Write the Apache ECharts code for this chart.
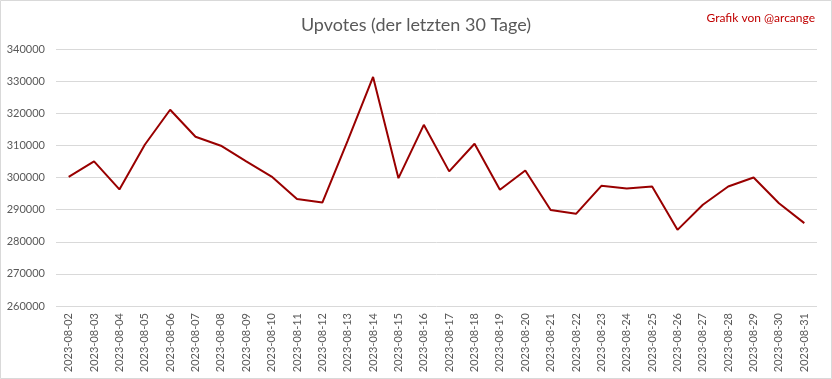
<!DOCTYPE html>
<html><head><meta charset="utf-8">
<script src="https://cdn.jsdelivr.net/npm/echarts@6/dist/echarts.min.js"></script>
<style>html,body{margin:0;padding:0;background:#fff}#c{width:832px;height:379px}</style>
</head><body><div id="c"></div>
<script>
const categories = ["2023-08-02","2023-08-03","2023-08-04","2023-08-05","2023-08-06","2023-08-07","2023-08-08","2023-08-09","2023-08-10","2023-08-11","2023-08-12","2023-08-13","2023-08-14","2023-08-15","2023-08-16","2023-08-17","2023-08-18","2023-08-19","2023-08-20","2023-08-21","2023-08-22","2023-08-23","2023-08-24","2023-08-25","2023-08-26","2023-08-27","2023-08-28","2023-08-29","2023-08-30","2023-08-31"];
const upvotes = [300200,305000,296300,310200,321100,312700,309900,305000,300300,293300,292200,311500,331300,299800,316400,301900,310500,296200,302200,289900,288700,297400,296600,297200,283700,291500,297200,300000,292000,285800];
const yMin = 260000, yMax = 340000, yStep = 10000;
const titleText = "Upvotes (der letzten 30 Tage)";
const creditText = "Grafik von @arcange";

const chart = echarts.init(document.getElementById('c'), null, {renderer:'canvas'});
chart.setOption({
  animation: false,
  backgroundColor: '#fff',
  title: [
    {text: titleText, left: 'center', top: 11, textStyle: {fontFamily: 'Lato', fontSize: 18, fontWeight: 'normal', color: '#595959'}},
    {text: creditText, right: 12, top: 7, textStyle: {fontFamily: 'Lato', fontSize: 12, fontWeight: 'normal', color: '#c00000'}}
  ],
  graphic: [{type: 'rect', shape: {x: 0.5, y: 0.5, width: 831, height: 378}, style: {fill: 'none', stroke: '#d9d9d9', lineWidth: 1}, silent: true}],
  grid: {left: 56, right: 15, top: 49, bottom: 73},
  xAxis: {
    type: 'category', data: categories, boundaryGap: true,
    axisLine: {show: false}, axisTick: {show: false},
    axisLabel: {rotate: 90, interval: 0, margin: 7, fontFamily: 'Lato', fontSize: 11, color: '#595959'}
  },
  yAxis: {
    type: 'value', min: yMin, max: yMax, interval: yStep,
    axisLine: {show: false}, axisTick: {show: false},
    axisLabel: {margin: 11, fontFamily: 'Lato', fontSize: 11, color: '#595959', formatter: v => String(v)},
    splitLine: {lineStyle: {color: '#d9d9d9', width: 1}}
  },
  series: [{
    type: 'line', data: upvotes, symbol: 'none',
    lineStyle: {color: '#990000', width: 2}
  }]
});
</script></body></html>
